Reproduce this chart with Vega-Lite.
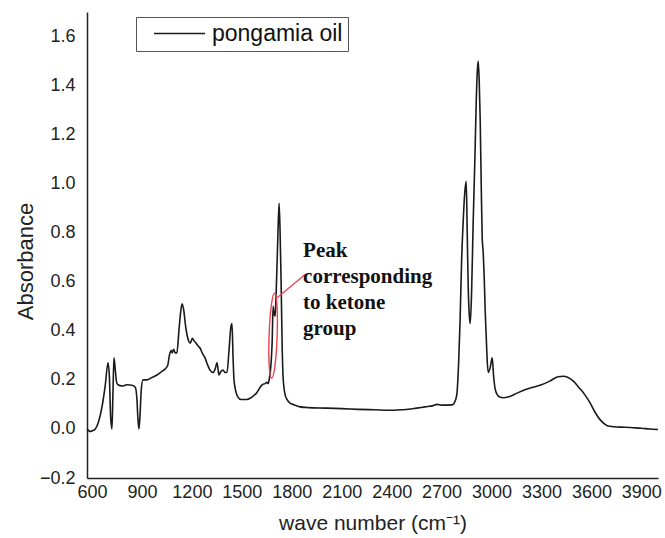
{
  "$schema": "https://vega.github.io/schema/vega-lite/v6.json",
  "width": 571,
  "height": 466,
  "autosize": "none",
  "padding": {"left": 87, "top": 12, "right": 7, "bottom": 60},
  "background": "white",
  "config": {
    "view": {"stroke": null},
    "axis": {
      "grid": false,
      "ticks": false,
      "domainColor": "#222",
      "domainWidth": 1.5,
      "labelFont": "Liberation Sans",
      "labelFontSize": 18,
      "labelColor": "#222",
      "titleFont": "Liberation Sans",
      "titleFontSize": 21,
      "titleFontWeight": "normal",
      "titleColor": "#222"
    }
  },
  "datasets": {
    "spectrum": [
      {"w": 570, "a": 0.0}, {"w": 588, "a": -0.01}, {"w": 600, "a": -0.008}, {"w": 620, "a": 0.0},
      {"w": 640, "a": 0.03}, {"w": 660, "a": 0.09}, {"w": 680, "a": 0.18}, {"w": 696, "a": 0.27},
      {"w": 704, "a": 0.22}, {"w": 712, "a": 0.05}, {"w": 720, "a": 0.0}, {"w": 726, "a": 0.15},
      {"w": 732, "a": 0.29}, {"w": 740, "a": 0.24}, {"w": 748, "a": 0.19}, {"w": 756, "a": 0.18},
      {"w": 780, "a": 0.175}, {"w": 810, "a": 0.18}, {"w": 840, "a": 0.178}, {"w": 860, "a": 0.17},
      {"w": 870, "a": 0.12}, {"w": 876, "a": 0.04}, {"w": 882, "a": 0.0}, {"w": 888, "a": 0.05},
      {"w": 896, "a": 0.16}, {"w": 906, "a": 0.2}, {"w": 930, "a": 0.2}, {"w": 960, "a": 0.21},
      {"w": 990, "a": 0.22}, {"w": 1020, "a": 0.235}, {"w": 1040, "a": 0.245}, {"w": 1055, "a": 0.26},
      {"w": 1065, "a": 0.3}, {"w": 1075, "a": 0.32}, {"w": 1082, "a": 0.31}, {"w": 1090, "a": 0.325},
      {"w": 1100, "a": 0.31}, {"w": 1110, "a": 0.31}, {"w": 1122, "a": 0.4}, {"w": 1130, "a": 0.46},
      {"w": 1141, "a": 0.51}, {"w": 1152, "a": 0.48}, {"w": 1162, "a": 0.42}, {"w": 1172, "a": 0.38},
      {"w": 1180, "a": 0.36}, {"w": 1190, "a": 0.35}, {"w": 1203, "a": 0.37}, {"w": 1212, "a": 0.36},
      {"w": 1225, "a": 0.35}, {"w": 1235, "a": 0.34}, {"w": 1249, "a": 0.33}, {"w": 1262, "a": 0.31},
      {"w": 1279, "a": 0.29}, {"w": 1295, "a": 0.26}, {"w": 1309, "a": 0.24}, {"w": 1327, "a": 0.23},
      {"w": 1340, "a": 0.245}, {"w": 1351, "a": 0.27}, {"w": 1358, "a": 0.24}, {"w": 1363, "a": 0.22},
      {"w": 1375, "a": 0.235}, {"w": 1387, "a": 0.24}, {"w": 1400, "a": 0.23}, {"w": 1411, "a": 0.23},
      {"w": 1423, "a": 0.32}, {"w": 1435, "a": 0.42}, {"w": 1441, "a": 0.43}, {"w": 1447, "a": 0.3},
      {"w": 1453, "a": 0.2}, {"w": 1459, "a": 0.17}, {"w": 1477, "a": 0.13}, {"w": 1495, "a": 0.12},
      {"w": 1508, "a": 0.12}, {"w": 1530, "a": 0.12}, {"w": 1550, "a": 0.125}, {"w": 1570, "a": 0.135},
      {"w": 1592, "a": 0.15}, {"w": 1610, "a": 0.17}, {"w": 1622, "a": 0.18}, {"w": 1640, "a": 0.185},
      {"w": 1650, "a": 0.19}, {"w": 1658, "a": 0.185}, {"w": 1664, "a": 0.2}, {"w": 1676, "a": 0.27},
      {"w": 1682, "a": 0.35}, {"w": 1688, "a": 0.5}, {"w": 1694, "a": 0.47}, {"w": 1700, "a": 0.46},
      {"w": 1706, "a": 0.55}, {"w": 1712, "a": 0.68}, {"w": 1718, "a": 0.82}, {"w": 1724, "a": 0.92},
      {"w": 1730, "a": 0.8}, {"w": 1736, "a": 0.6}, {"w": 1742, "a": 0.35}, {"w": 1748, "a": 0.21},
      {"w": 1760, "a": 0.14}, {"w": 1772, "a": 0.12}, {"w": 1790, "a": 0.105}, {"w": 1808, "a": 0.1},
      {"w": 1850, "a": 0.09}, {"w": 1900, "a": 0.087}, {"w": 2000, "a": 0.085}, {"w": 2100, "a": 0.083},
      {"w": 2200, "a": 0.08}, {"w": 2300, "a": 0.078}, {"w": 2400, "a": 0.076}, {"w": 2451, "a": 0.078},
      {"w": 2500, "a": 0.08}, {"w": 2550, "a": 0.085}, {"w": 2600, "a": 0.09}, {"w": 2650, "a": 0.095},
      {"w": 2673, "a": 0.1}, {"w": 2700, "a": 0.097}, {"w": 2763, "a": 0.098}, {"w": 2785, "a": 0.12},
      {"w": 2793, "a": 0.15}, {"w": 2803, "a": 0.28}, {"w": 2811, "a": 0.44}, {"w": 2820, "a": 0.68},
      {"w": 2830, "a": 0.85}, {"w": 2840, "a": 0.97}, {"w": 2848, "a": 1.01}, {"w": 2854, "a": 0.8},
      {"w": 2860, "a": 0.58}, {"w": 2866, "a": 0.47}, {"w": 2872, "a": 0.43}, {"w": 2880, "a": 0.55},
      {"w": 2890, "a": 0.85}, {"w": 2900, "a": 1.1}, {"w": 2908, "a": 1.33}, {"w": 2914, "a": 1.45},
      {"w": 2920, "a": 1.5}, {"w": 2926, "a": 1.42}, {"w": 2932, "a": 1.26}, {"w": 2938, "a": 1.0},
      {"w": 2944, "a": 0.78}, {"w": 2950, "a": 0.72}, {"w": 2956, "a": 0.62}, {"w": 2962, "a": 0.48},
      {"w": 2968, "a": 0.38}, {"w": 2974, "a": 0.28}, {"w": 2980, "a": 0.23}, {"w": 2992, "a": 0.25},
      {"w": 3004, "a": 0.29}, {"w": 3012, "a": 0.22}, {"w": 3020, "a": 0.17}, {"w": 3034, "a": 0.14},
      {"w": 3050, "a": 0.13}, {"w": 3070, "a": 0.127}, {"w": 3100, "a": 0.13}, {"w": 3150, "a": 0.145},
      {"w": 3200, "a": 0.16}, {"w": 3250, "a": 0.17}, {"w": 3300, "a": 0.18}, {"w": 3350, "a": 0.195},
      {"w": 3400, "a": 0.213}, {"w": 3430, "a": 0.215}, {"w": 3460, "a": 0.21}, {"w": 3490, "a": 0.196},
      {"w": 3530, "a": 0.165}, {"w": 3560, "a": 0.14}, {"w": 3592, "a": 0.106}, {"w": 3620, "a": 0.07},
      {"w": 3653, "a": 0.037}, {"w": 3680, "a": 0.02}, {"w": 3700, "a": 0.012}, {"w": 3750, "a": 0.008},
      {"w": 3800, "a": 0.007}, {"w": 3850, "a": 0.005}, {"w": 3900, "a": 0.003}, {"w": 3950, "a": 0.0},
      {"w": 4000, "a": -0.002}
    ],
    "ketoneMark": [{"w": 1688, "a": 0.38}],
    "leader": [{"w": 1712, "a": 0.535, "w2": 1880, "a2": 0.63}],
    "note": [{"w": 1868, "a": 0.70, "label": "Peak\ncorresponding\nto ketone\ngroup"}]
  },
  "layer": [
    {
      "data": {"name": "spectrum"},
      "transform": [{"calculate": "'pongamia oil'", "as": "series"}],
      "mark": {"type": "line", "strokeWidth": 1.6, "interpolate": "monotone"},
      "encoding": {
        "x": {
          "field": "w", "type": "quantitative",
          "scale": {"domain": [570, 4000], "nice": false, "zero": false},
          "axis": {"values": [600, 900, 1200, 1500, 1800, 2100, 2400, 2700, 3000, 3300, 3600, 3900],
                   "format": "d", "labelPadding": 5, "title": "wave number (cm⁻¹)", "titlePadding": 11}
        },
        "y": {
          "field": "a", "type": "quantitative",
          "scale": {"domain": [-0.2, 1.7], "nice": false, "zero": false},
          "axis": {"values": [-0.2, 0, 0.2, 0.4, 0.6, 0.8, 1.0, 1.2, 1.4, 1.6],
                   "format": ".1f", "labelPadding": 12, "title": "Absorbance",
                   "titleFontSize": 22, "titleX": -62, "titleY": 249, "titleBaseline": "middle", "titleAngle": -90}
        },
        "color": {
          "field": "series", "type": "nominal",
          "scale": {"range": ["#1a1a1a"]},
          "legend": {
            "title": null, "orient": "none", "legendX": 49, "legendY": 5,
            "symbolType": "M-4,0H4", "symbolSize": 163, "symbolStrokeWidth": 1.5, "symbolOffset": 27,
            "labelFont": "Liberation Sans", "labelFontSize": 23, "labelColor": "#111",
            "labelOffset": 21, "strokeColor": "#555", "fillColor": "white", "padding": 5
          }
        }
      }
    },
    {
      "data": {"name": "ketoneMark"},
      "mark": {"type": "point", "shape": "M0,-1A0.095,1,0,1,1,0,1A0.095,1,0,1,1,0,-1Z",
               "size": 7225, "filled": false, "stroke": "#e8434f", "strokeWidth": 1.4, "opacity": 1, "angle": 2},
      "encoding": {
        "x": {"field": "w", "type": "quantitative"},
        "y": {"field": "a", "type": "quantitative"}
      }
    },
    {
      "data": {"name": "leader"},
      "mark": {"type": "rule", "stroke": "#e8434f", "strokeWidth": 1.3},
      "encoding": {
        "x": {"field": "w", "type": "quantitative"},
        "y": {"field": "a", "type": "quantitative"},
        "x2": {"field": "w2"},
        "y2": {"field": "a2"}
      }
    },
    {
      "data": {"name": "note"},
      "mark": {"type": "text", "font": "Liberation Serif", "fontWeight": "bold", "fontSize": 21,
               "align": "left", "baseline": "alphabetic", "lineBreak": "\n", "lineHeight": 26, "color": "#111"},
      "encoding": {
        "x": {"field": "w", "type": "quantitative"},
        "y": {"field": "a", "type": "quantitative"},
        "text": {"field": "label"}
      }
    }
  ]
}
